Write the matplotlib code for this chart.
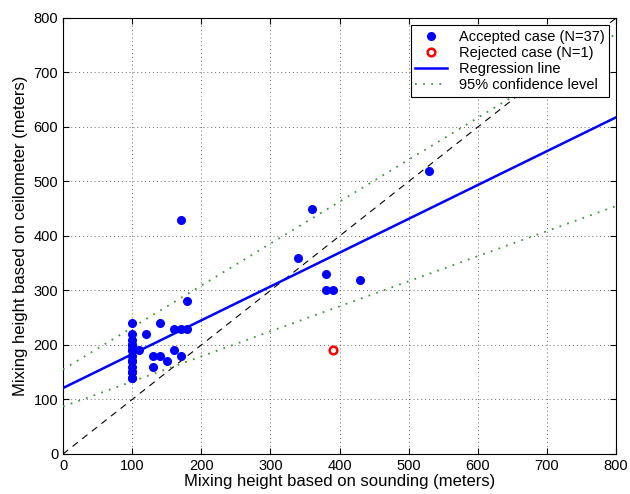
import numpy as np
import matplotlib.pyplot as plt

plt.rcParams['font.family'] = ['Liberation Sans', 'DejaVu Sans']

# Accepted cases: sounding vs ceilometer mixing height (m)
acc_x = [100, 100, 100, 100, 100, 100, 100, 100, 100, 100, 100, 100, 100, 100, 100, 100,
         110, 120, 130, 130, 140, 140, 150, 160, 160, 170, 170, 170, 180, 180,
         340, 360, 380, 380, 390, 430, 530]
acc_y = [240, 220, 210, 200, 200, 190, 190, 180, 170, 170, 160, 150, 150, 140, 140, 200,
         190, 220, 180, 160, 240, 180, 170, 190, 230, 430, 180, 230, 230, 280,
         360, 450, 330, 300, 300, 320, 520]

# Rejected case
rej_x = [390]
rej_y = [190]

# Regression and 95% confidence lines (intercept, slope)
reg_coef = [121, 0.621]
ci_upper = [155, 0.77]
ci_lower = [87, 0.46]

xline = np.array([0, 800])

fig = plt.figure(figsize=(6.3, 4.94), dpi=100)
ax = fig.add_axes([0.1, 0.081, 0.878, 0.8826])

ax.plot(acc_x, acc_y, 'o', color='#0000ff', markersize=5.5, label='Accepted case (N=37)', zorder=4)
ax.plot(rej_x, rej_y, 'o', mfc='none', mec='red', mew=1.8, markersize=5.5,
        label='Rejected case (N=1)', zorder=4)
ax.plot(xline, reg_coef[0] + reg_coef[1] * xline, '-', color='#0000ff', lw=1.8,
        label='Regression line', zorder=3)
ax.plot(xline, ci_upper[0] + ci_upper[1] * xline, color='#3a9a3a', lw=1.3,
        linestyle=(0, (1, 3.5)), label='95% confidence level', zorder=3)
ax.plot(xline, ci_lower[0] + ci_lower[1] * xline, color='#3a9a3a', lw=1.3,
        linestyle=(0, (1, 3.5)), zorder=3)
ax.plot(xline, xline, '--', color='black', lw=0.8, dashes=(6, 5), zorder=2)

ax.set_xlim(0, 800)
ax.set_ylim(0, 800)
ax.set_xticks(range(0, 801, 100))
ax.set_yticks(range(0, 801, 100))
ax.tick_params(direction='in', top=True, right=True, labelsize=10.5, length=4)
ax.grid(True, linestyle=(0, (1, 3)), color='#444444', lw=0.7, alpha=0.8)

ax.set_xlabel('Mixing height based on sounding (meters)', fontsize=12, labelpad=1)
ax.set_ylabel('Mixing height based on ceilometer (meters)', fontsize=12, labelpad=4)

leg = ax.legend(loc='upper right', fontsize=10.5, fancybox=False, framealpha=1,
                edgecolor='black', borderpad=0.3, labelspacing=0.15, handlelength=2.2,
                borderaxespad=0.5)
leg.get_frame().set_linewidth(0.8)

fig.savefig('out.png', dpi=100)
